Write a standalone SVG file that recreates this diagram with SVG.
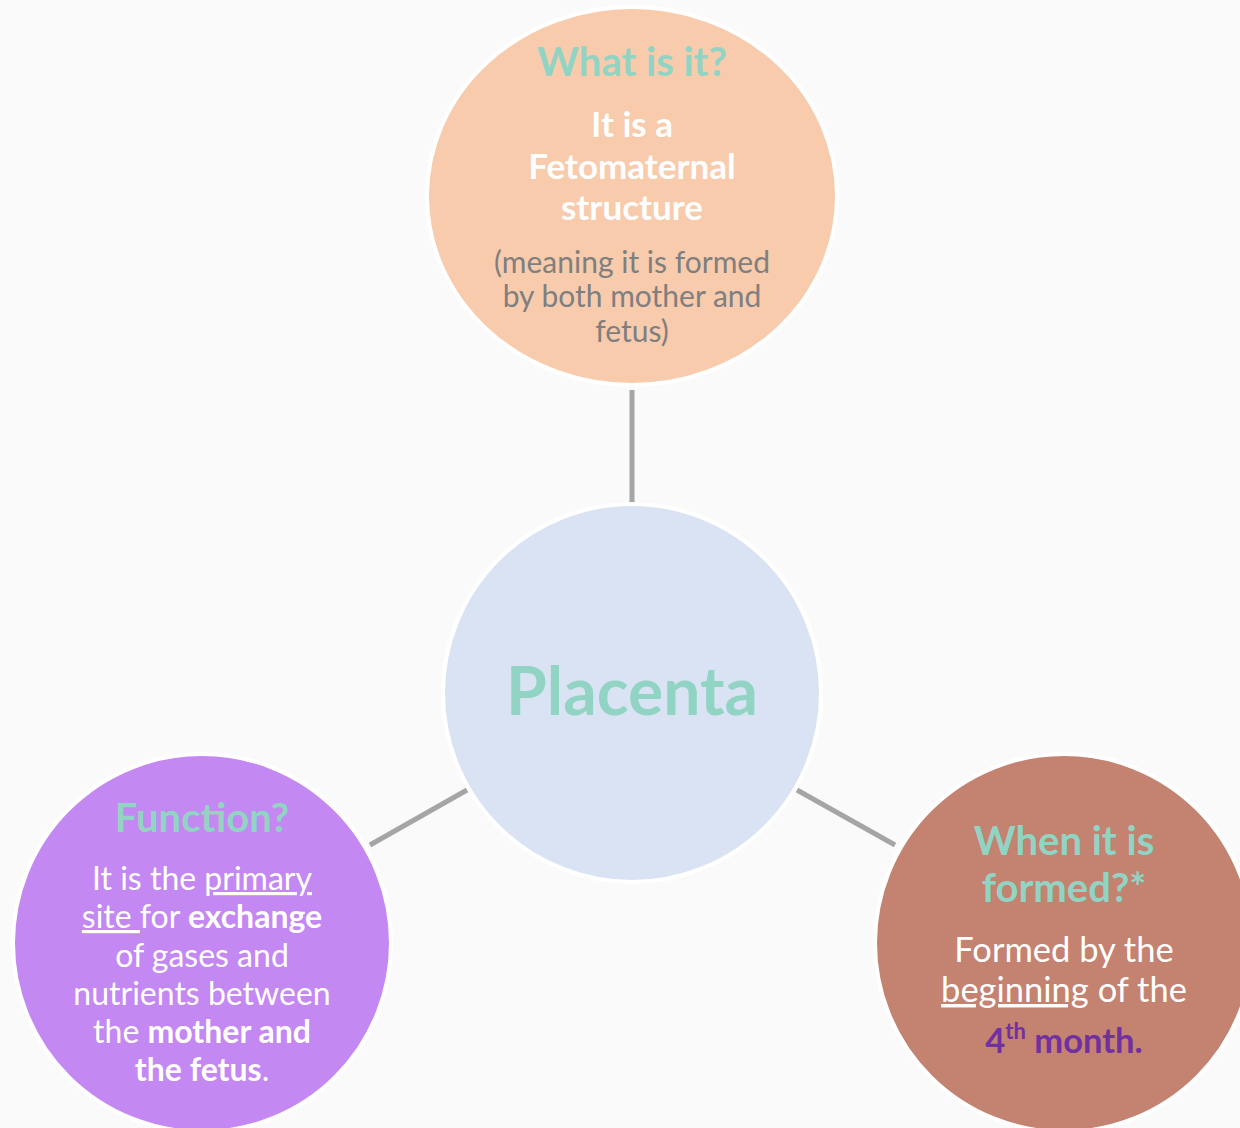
<svg xmlns="http://www.w3.org/2000/svg" width="1240" height="1128" viewBox="0 0 1240 1128">
<style>
text { font-family: Lato, "Noto Sans", "Liberation Sans", sans-serif; text-anchor: middle; }
.title { font-size: 40px; font-weight: 700; fill: #92D4C4; }
.wb { font-size: 35px; font-weight: 700; fill: #FFFFFF; }
.gray { font-size: 30px; fill: #7F7F7F; }
.body { font-size: 32px; fill: #FFFFFF; }
.body2 { font-size: 34.5px; fill: #FFFFFF; }
.b { font-weight: 700; }
.u { text-decoration: underline; }
.node { stroke: #FFFFFF; stroke-width: 4; }
.conn { stroke: #A5A5A5; stroke-width: 5; fill: none; }
</style>
<rect width="1240" height="1128" fill="#FAFAFA"/>
<g id="connectors">
<line class="conn" x1="632" y1="390" x2="632" y2="503"/>
<line class="conn" x1="370" y1="845" x2="467" y2="790"/>
<line class="conn" x1="797" y1="790" x2="895" y2="845"/>
</g>
<g id="node-center">
<circle class="node" cx="632" cy="693" r="189" fill="#DAE3F3"/>
<text x="632" y="715" style="font-size:66px;font-weight:700;fill:#92D4C4">Placenta</text>
</g>
<g id="node-top">
<ellipse class="node" cx="632" cy="196" rx="205" ry="189" fill="#F8CBAD"/>
<text class="title" x="632" y="76">What is it?</text>
<text class="wb" x="632" y="137">It is a</text>
<text class="wb" x="632" y="179">Fetomaternal</text>
<text class="wb" x="632" y="220">structure</text>
<text class="gray" x="632" y="273">(meaning it is formed</text>
<text class="gray" x="632" y="307">by both mother and</text>
<text class="gray" x="632" y="342">fetus)</text>
</g>
<g id="node-left">
<circle class="node" cx="202" cy="943" r="189" fill="#C488F2"/>
<text class="title" x="202" y="832">Function?</text>
<text class="body" x="202" y="890">It is the <tspan class="u">primary</tspan></text>
<text class="body" x="202" y="928"><tspan class="u">site </tspan>for <tspan class="b">exchange</tspan></text>
<text class="body" x="202" y="967">of gases and</text>
<text class="body" x="202" y="1005">nutrients between</text>
<text class="body" x="202" y="1043">the <tspan class="b">mother and</tspan></text>
<text class="body" x="202" y="1081"><tspan class="b">the fetus</tspan>.</text>
</g>
<g id="node-right">
<circle class="node" cx="1064" cy="943" r="189" fill="#C48270"/>
<text class="title" x="1064" y="855">When it is</text>
<text class="title" x="1064" y="902">formed?*</text>
<text class="body2" x="1064" y="962">Formed by the</text>
<text class="body2" x="1064" y="1002"><tspan class="u">beginning</tspan> of the</text>
<text class="body2" x="1064" y="1053" style="font-weight:700;fill:#7030A0">4<tspan dy="-14" style="font-size:22px">th</tspan><tspan dy="14"> month.</tspan></text>
</g>
</svg>
